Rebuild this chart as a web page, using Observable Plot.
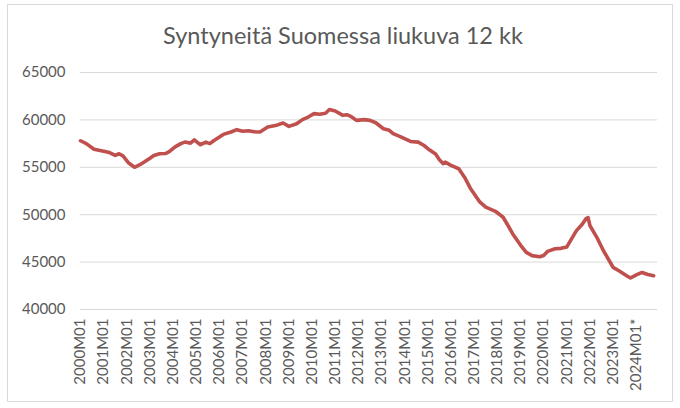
<!DOCTYPE html>
<html>
<head>
<meta charset="utf-8">
<script src="https://cdn.jsdelivr.net/npm/d3@7"></script>
<script src="https://cdn.jsdelivr.net/npm/@observablehq/plot@0.6"></script>
<style>
  html, body { margin: 0; padding: 0; background: #fff; }
  #wrap { position: relative; width: 680px; height: 408px; overflow: hidden; }
  #frame { position: absolute; left: 7px; top: 4px; width: 666px; height: 398px; border: 1px solid #d9d9d9; box-sizing: border-box; }
  #title { position: absolute; left: 0; top: 21px; width: 686px; text-align: center; font-family: Lato, sans-serif; font-size: 23.5px; color: #595959; }
  #chart { position: absolute; left: 0; top: 0; }
</style>
</head>
<body>
<div id="wrap">
  <div id="frame"></div>
  <div id="chart"></div>
  <div id="title">Syntyneitä Suomessa liukuva 12 kk</div>
</div>
<script>
// Category tick labels (every January)
const tickLabels = ["2000M01","2001M01","2002M01","2003M01","2004M01","2005M01","2006M01","2007M01","2008M01","2009M01","2010M01","2011M01","2012M01","2013M01","2014M01","2015M01","2016M01","2017M01","2018M01","2019M01","2020M01","2021M01","2022M01","2023M01","2024M01*"];
const yTicks = [40000, 45000, 50000, 55000, 60000, 65000];

// Rolling 12-month births
const pointMonths = ["2000M01","2000M04","2000M08","2001M01","2001M04","2001M07","2001M09","2001M11","2002M02","2002M05","2002M08","2002M10","2003M01","2003M03","2003M06","2003M09","2003M11","2004M02","2004M05","2004M07","2004M10","2004M12","2005M03","2005M06","2005M08","2005M10","2006M01","2006M03","2006M07","2006M10","2007M01","2007M04","2007M07","2007M10","2008M02","2008M06","2008M10","2009M01","2009M05","2009M08","2009M11","2010M02","2010M05","2010M08","2010M10","2011M01","2011M05","2011M07","2011M09","2011M12","2012M04","2012M07","2012M10","2013M02","2013M05","2013M07","2013M11","2014M04","2014M08","2014M11","2015M01","2015M05","2015M07","2015M09","2015M10","2016M01","2016M05","2016M08","2016M11","2017M04","2017M07","2017M12","2018M04","2018M07","2018M09","2019M01","2019M04","2019M07","2019M11","2020M01","2020M03","2020M07","2020M10","2021M01","2021M03","2021M06","2021M09","2021M11","2021M12","2022M01","2022M05","2022M08","2022M12","2023M01","2023M04","2023M08","2023M10","2024M01","2024M04","2024M07","2024M10"];
const births = [57800,57500,56900,56700,56550,56250,56430,56200,55450,55000,55300,55550,55950,56250,56430,56450,56650,57150,57500,57660,57550,57900,57380,57650,57500,57800,58200,58470,58720,58970,58800,58850,58750,58720,59250,59400,59670,59320,59600,60030,60300,60660,60600,60700,61090,60940,60480,60550,60380,59950,60030,59950,59700,59070,58900,58550,58200,57730,57660,57300,56960,56400,55800,55380,55545,55200,54850,53960,52800,51320,50790,50360,49730,48700,47970,46800,46030,45680,45570,45700,46130,46400,46450,46600,47300,48320,49000,49600,49700,48850,47440,46200,44800,44440,44090,43560,43320,43650,43910,43700,43560];

const idx = s => { const m = s.match(/(\d{4})M(\d{2})/); return (+m[1] - 2000) * 12 + (+m[2] - 1); };
const data = pointMonths.map((m, i) => ({x: idx(m), y: births[i]}));
const tickIdx = tickLabels.map(idx);

const chart = Plot.plot({
  width: 680,
  height: 408,
  marginLeft: 80,
  marginRight: 23,
  marginTop: 72,
  marginBottom: 99,
  style: {fontFamily: "Lato, sans-serif", fontSize: "15px", color: "#595959", background: "transparent"},
  x: {domain: [0, 299], axis: null},
  y: {domain: [40000, 65000], axis: null},
  marks: [
    Plot.ruleY(yTicks, {stroke: "#d9d9d9", strokeWidth: 1}),
    Plot.axisY({ticks: yTicks, tickSize: 0, tickPadding: 15, tickFormat: d => String(d), fill: "#595959", label: null}),
    Plot.axisX({ticks: tickIdx, tickSize: 0, tickPadding: 9, tickRotate: -90, tickFormat: (d, i) => tickLabels[i], fill: "#595959", label: null}),
    Plot.line(data, {x: "x", y: "y", stroke: "#c0504d", strokeWidth: 3.6, strokeLinejoin: "round", strokeLinecap: "round"})
  ]
});
document.getElementById("chart").appendChild(chart);
</script>
</body>
</html>
